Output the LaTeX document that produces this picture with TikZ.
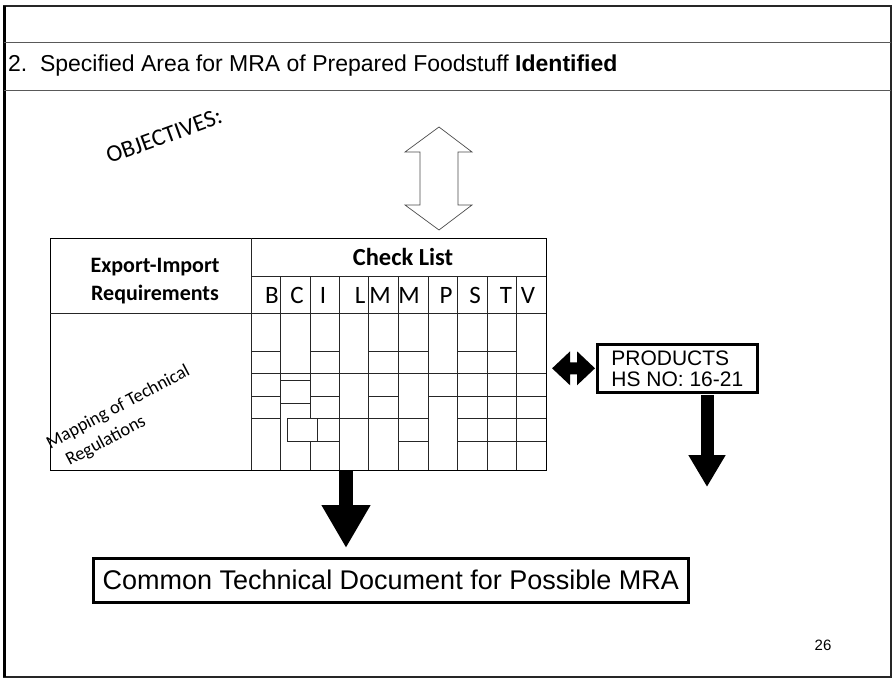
\documentclass[tikz,border=0pt]{standalone}
\usepackage{fontspec}
\setmainfont{Liberation Sans}
\newfontfamily\calib{Carlito}
\usetikzlibrary{arrows.meta,calc}
\tikzset{
  frameline/.style={line width=2pt, black!85},
  ruleline/.style={line width=0.9pt, black!65},
  gridline/.style={line width=1pt, black!85},
  hollowarrow/.style={draw=black!70, line width=0.7pt, fill=white},
  heavybox/.style={draw=black, line width=2.6pt, fill=white},
  lettertext/.style={font=\calib\fontsize{25}{27}\selectfont, inner sep=0pt},
}
\begin{document}
\begin{tikzpicture}[x=1pt,y=-1pt]
\useasboundingbox (0,0) rectangle (896,679);
% page frame
\draw[frameline] (4,6) rectangle (891,677);
\draw[line width=3pt] (4,6) -- (4,677);
\draw[ruleline] (4,42) -- (891,42);
\draw[ruleline] (4,90) -- (891,90);
\node[anchor=west, inner sep=0pt, font=\fontsize{23}{27}\selectfont] (title) at (8,66)
  {2.\hspace{0.55em}Specified Area for MRA of Prepared Foodstuff \textbf{Identified}};

% objectives
\node[rotate=20, font=\calib\fontsize{24}{26}\selectfont] (obj) at (164,136) {OBJECTIVES:};

% hollow double arrow
\draw[hollowarrow] (439,127) -- (472,152) -- (458,152) -- (458,205) -- (472,205)
  -- (439,230) -- (405,205) -- (420,205) -- (420,152) -- (405,152) -- cycle;

% table outline
\node[draw, line width=1.1pt, minimum width=496pt, minimum height=232pt, inner sep=0pt,
  anchor=north west] (tbl) at (50,238) {};
\draw[gridline] (251,238) -- (251,470);
\draw[gridline] (50,313) -- (546,313);
\draw[gridline] (251,276) -- (546,276);
% column lines
\foreach \x in {280,339,368,398,428,457,487,516}
  \draw[gridline] (\x,276) -- (\x,470);
\draw[gridline] (310,276) -- (310,418);
\draw[gridline] (310,441) -- (310,470);
% horizontal segments in body: xa/xb/y
\foreach \xa/\xb/\y in {
  251/280/351, 251/280/373, 251/280/396, 251/280/418,
  280/310/373, 280/310/380, 280/310/403,
  310/339/351, 310/339/373, 310/339/396,
  339/368/373, 339/368/418,
  368/398/351, 368/398/373, 368/398/396, 368/398/418,
  398/428/351, 398/428/373, 398/428/418, 398/428/441,
  428/457/373, 428/457/396,
  457/487/351, 457/487/373, 457/487/396, 457/487/418, 457/487/441,
  487/516/351, 487/516/373, 487/516/396, 487/516/418, 487/516/441,
  516/546/373, 516/546/396, 516/546/418, 516/546/441}
  \draw[gridline] (\xa,\y) -- (\xb,\y);
% small inner box
\draw[gridline] (287,418) rectangle (339,441);
\draw[gridline] (317,418) -- (317,441);

% header texts
\node[align=center, font=\calib\bfseries\fontsize{22}{28}\selectfont] (req) at (155,281)
  {Export-Import\\Requirements};
\node[font=\calib\bfseries\fontsize{24.5}{26}\selectfont] (chk) at (403,257) {Check List};
\node[lettertext] (lB) at (272,295) {B};
\node[lettertext] (lC) at (297,295) {C};
\node[lettertext] (lI) at (323,295) {I};
\node[lettertext] (lL) at (360,295) {L};
\node[lettertext] (lM1) at (380,295) {M};
\node[lettertext] (lM2) at (409,295) {M};
\node[lettertext] (lP) at (446,295) {P};
\node[lettertext] (lS) at (475,295) {S};
\node[lettertext] (lT) at (506,295) {T};
\node[lettertext] (lV) at (528,295) {V};
\node[rotate=28, align=left, inner sep=0pt, font=\calib\fontsize{18.5}{24}\selectfont] (map) at (124,418)
  {Mapping of Technical\\\hspace{0.5em}Regulations};

% products box
\node[heavybox, anchor=north west, minimum width=160pt, minimum height=48pt,
  align=left, inner sep=3pt, font=\fontsize{21}{21}\selectfont] (prod) at (596,343)
  {PRODUCTS\\HS NO: 16-21};

% common document box
\node[heavybox, anchor=north west, minimum width=595pt, minimum height=44pt,
  inner sep=3pt, font=\fontsize{27}{30}\selectfont] (doc) at (92,557)
  {Common Technical Document for Possible MRA};

% page number
\node[font=\fontsize{15}{17}\selectfont] (pg) at (823,645) {26};

% black double arrow between table and products box
\coordinate (da) at ([xshift=5pt]tbl.east |- prod.center);
\coordinate (db) at ([xshift=-1pt]prod.west);
\fill[black] (da) -- ($(da)+(18,-17)$) -- ($(da)+(18,-6)$) -- ($(db)+(-18,-6)$)
  -- ($(db)+(-18,-17)$) -- (db) -- ($(db)+(-18,17)$) -- ($(db)+(-18,6)$)
  -- ($(da)+(18,6)$) -- ($(da)+(18,17)$) -- cycle;
% black down arrows
\coordinate (la) at (346,470);
\draw[line width=14pt, -{Triangle[length=43pt,width=46pt]}] (la) -- ([yshift=9pt]la |- doc.north);
\coordinate (ra) at (707,391);
\draw[line width=13pt, -{Triangle[length=32pt,width=35pt]}] ([yshift=-4pt]ra) -- (707,487);
\end{tikzpicture}
\end{document}
